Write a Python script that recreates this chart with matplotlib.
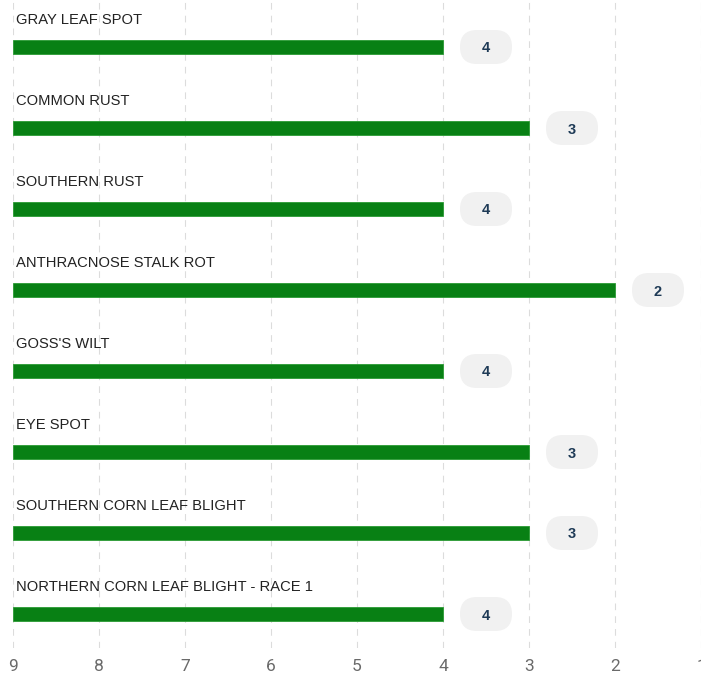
import matplotlib
matplotlib.use("Agg")
import matplotlib.pyplot as plt
import matplotlib.transforms as mtransforms
from matplotlib.patches import FancyBboxPatch

diseases = ["GRAY LEAF SPOT", "COMMON RUST", "SOUTHERN RUST", "ANTHRACNOSE STALK ROT",
            "GOSS'S WILT", "EYE SPOT", "SOUTHERN CORN LEAF BLIGHT",
            "NORTHERN CORN LEAF BLIGHT - RACE 1"]
ratings = [4, 3, 4, 2, 4, 3, 3, 4]
ticks = [9, 8, 7, 6, 5, 4, 3, 2, 1]

W, H, DPI = 701, 675, 100
fig = plt.figure(figsize=(W / DPI, H / DPI), dpi=DPI)
ax_left, ax_right = 13 / W, 1.0
ax_bottom = 648
ax = fig.add_axes([ax_left, 1 - ax_bottom / H, ax_right - ax_left, ax_bottom / H])

px_per_row = 81
first_center = 47
ytop = -first_center / px_per_row
ybot = (ax_bottom - first_center) / px_per_row
ax.set_xlim(9, 1)
ax.set_ylim(ybot, ytop)

green = "#088014"
for i, (name, v) in enumerate(zip(diseases, ratings)):
    ax.barh(i, 9 - v, left=v, height=14 / px_per_row, color=green,
            edgecolor="#2a9a33", linewidth=0.6, zorder=3)
    ax.text(9, i - 28 / px_per_row, name, ha="left", va="center",
            fontsize=10.6, color="#222222", family="Liberation Sans",
            transform=ax.transData + mtransforms.ScaledTranslation(3 / DPI, -1 / DPI, fig.dpi_scale_trans),
            zorder=4)
    cx = v - 0.5
    tr = fig.dpi_scale_trans + mtransforms.ScaledTranslation(cx, i, ax.transData)
    badge = FancyBboxPatch((-0.26, -0.17), 0.52, 0.34,
                           boxstyle="round,pad=0,rounding_size=0.17",
                           transform=tr, facecolor="#f1f1f1", edgecolor="none",
                           zorder=3)
    ax.add_patch(badge)
    ax.text(cx, i, str(v), ha="center", va="center_baseline", fontsize=10.5,
            fontweight="bold", color="#1e3a56", family="Liberation Sans", zorder=4)

ax.set_xticks(ticks)
ax.set_xticklabels([str(t) for t in ticks])
ax.set_yticks([])
ax.tick_params(axis="x", length=0, pad=8, labelsize=12.5, labelcolor="#6a6a6a")
for lab in ax.get_xticklabels():
    lab.set_family("Roboto")
for s in ax.spines.values():
    s.set_visible(False)
ax.xaxis.grid(True, color="#dcdcdc", linestyle=(0, (6, 5.5)), linewidth=0.8, zorder=0)
ax.set_axisbelow(True)
ax.patch.set_alpha(0)

fig.savefig("out.png", dpi=DPI)
